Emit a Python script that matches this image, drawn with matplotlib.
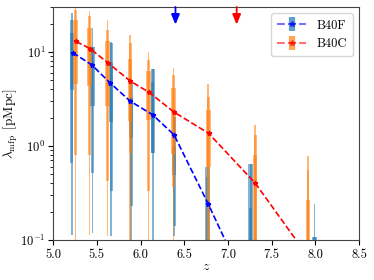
import numpy as np
import matplotlib
matplotlib.use("Agg")
import matplotlib.pyplot as plt
from matplotlib.lines import Line2D

plt.rcParams['font.family'] = 'serif'
plt.rcParams['font.serif'] = ['cmr10']
plt.rcParams['mathtext.fontset'] = 'cm'
plt.rcParams['axes.formatter.use_mathtext'] = True

# medians (lines)
z_F = [5.225, 5.44, 5.65, 5.88, 6.14, 6.384, 6.776, 7.27]
mfp_F = [9.8, 7.3, 4.7, 3.0, 2.14, 1.31, 0.24, 0.025]
z_C = [5.263, 5.424, 5.623, 5.882, 6.10, 6.38, 6.78, 7.314, 7.93]
mfp_C = [12.9, 10.8, 7.7, 4.9, 3.7, 2.3, 1.36, 0.4, 0.064]

# B40F percentile bars
zb_F = [5.213, 5.45, 5.664, 5.893, 6.14, 6.384, 6.765, 7.26, 7.99]
F_thin_hi = [26, 17.8, 12.6, 5.0, 6.6, 2.2, 0.6, 0.65, 0.24]
F_thin_lo = [0.113, 0.118, 0.11, 0.05, 0.05, 0.11, 0.05, 0.05, 0.05]
F_mid_hi = [22, 11.4, 12.4, 4.8, 4.8, 2.05, 0.47, 0.22, 0.108]
F_mid_lo = [0.66, 0.51, 0.33, 0.23, 0.84, 0.14, 0.05, 0.05, 0.05]
F_wide_hi = [15.8, 11.4, 7.6, 3.35, 6.6, 0.98, 0.6, 0.65, 0.108]
F_wide_lo = [3.9, 2.66, 1.8, 1.2, 0.84, 0.49, 0.05, 0.05, 0.05]

# B40C percentile bars
zb_C = [5.255, 5.416, 5.622, 5.88, 6.09, 6.376, 6.776, 7.31, 7.916]
C_thin_hi = [35, 27, 22, 15.1, 10, 6.7, 4.6, 1.67, 0.78]
C_thin_lo = [0.05, 0.113, 0.11, 0.05, 0.05, 0.05, 0.05, 0.05, 0.05]
C_mid_hi = [28, 23.8, 17, 12.4, 8.2, 5.7, 3.35, 1.31, 0.555]
C_mid_lo = [0.8, 0.8, 0.42, 0.84, 0.33, 0.37, 0.05, 0.05, 0.05]
C_wide_hi = [22, 17.8, 12.9, 8.3, 6.2, 4.1, 2.4, 0.8, 0.266]
C_wide_lo = [4.5, 4.3, 2.66, 1.86, 1.9, 0.82, 0.6, 0.05, 0.05]

# reionisation end markers
z_end_F = 6.4
z_end_C = 7.1

fig = plt.figure(figsize=(3.74, 2.8), dpi=100)
ax = fig.add_axes([0.142, 0.143, 0.818, 0.832])

def draw_bars(z, bands, color):
    for (lo, hi), w in zip(bands, [0.02, 0.034, 0.05]):
        lo = np.array(lo)
        hi = np.array(hi)
        ax.bar(z, hi - lo, bottom=lo, width=w, color=color, alpha=0.55,
               linewidth=0, zorder=2)

draw_bars(zb_F, [(F_thin_lo, F_thin_hi), (F_mid_lo, F_mid_hi), (F_wide_lo, F_wide_hi)], 'tab:blue')
draw_bars(zb_C, [(C_thin_lo, C_thin_hi), (C_mid_lo, C_mid_hi), (C_wide_lo, C_wide_hi)], 'tab:orange')

ax.plot(z_F, mfp_F, ls='--', color='blue', marker='*', ms=3.5, lw=1.2, zorder=3)
ax.plot(z_C, mfp_C, ls='--', color='red', marker='*', ms=3.5, lw=1.2, zorder=3)

ax.set_yscale('log')
ax.set_xlim(5.0, 8.5)
ax.set_ylim(0.1, 30)
ax.set_xticks(np.arange(5.0, 8.51, 0.5))
ax.set_xticklabels(['%.1f' % t for t in np.arange(5.0, 8.51, 0.5)])
ax.tick_params(axis='x', labelsize=9, pad=3)
ax.tick_params(axis='y', labelsize=9, pad=2)
for s in ax.spines.values():
    s.set_color('#444444')

for z_end, c in [(z_end_F, 'blue'), (z_end_C, 'red')]:
    ax.annotate('', xy=(z_end, 19.5), xytext=(z_end, 30),
                arrowprops=dict(arrowstyle='-|>,head_length=0.6,head_width=0.25',
                                color=c, lw=1.3, shrinkA=0, shrinkB=0),
                annotation_clip=False, zorder=4)

ax.set_xlabel(r'$z$', fontsize=10, labelpad=0)
ax.set_ylabel(r'$\lambda_{\rm mfp}\ \,[{\rm pMpc}]$', fontsize=9.5)
ax.yaxis.set_label_coords(-0.108, 0.5)

h_F = (Line2D([], [], color='tab:blue', marker='|', ms=10, mew=4.5, ls='none', alpha=0.7),
       Line2D([], [], color='blue', ls='--', marker='*', ms=4, alpha=0.55))
h_C = (Line2D([], [], color='tab:orange', marker='|', ms=10, mew=4.5, ls='none', alpha=0.7),
       Line2D([], [], color='red', ls='--', marker='*', ms=4, alpha=0.55))
ax.legend([h_F, h_C], ['B40F', 'B40C'], loc='upper right', fontsize=9,
          handlelength=2.3, borderpad=0.5)

fig.savefig('out.png', dpi=100)
